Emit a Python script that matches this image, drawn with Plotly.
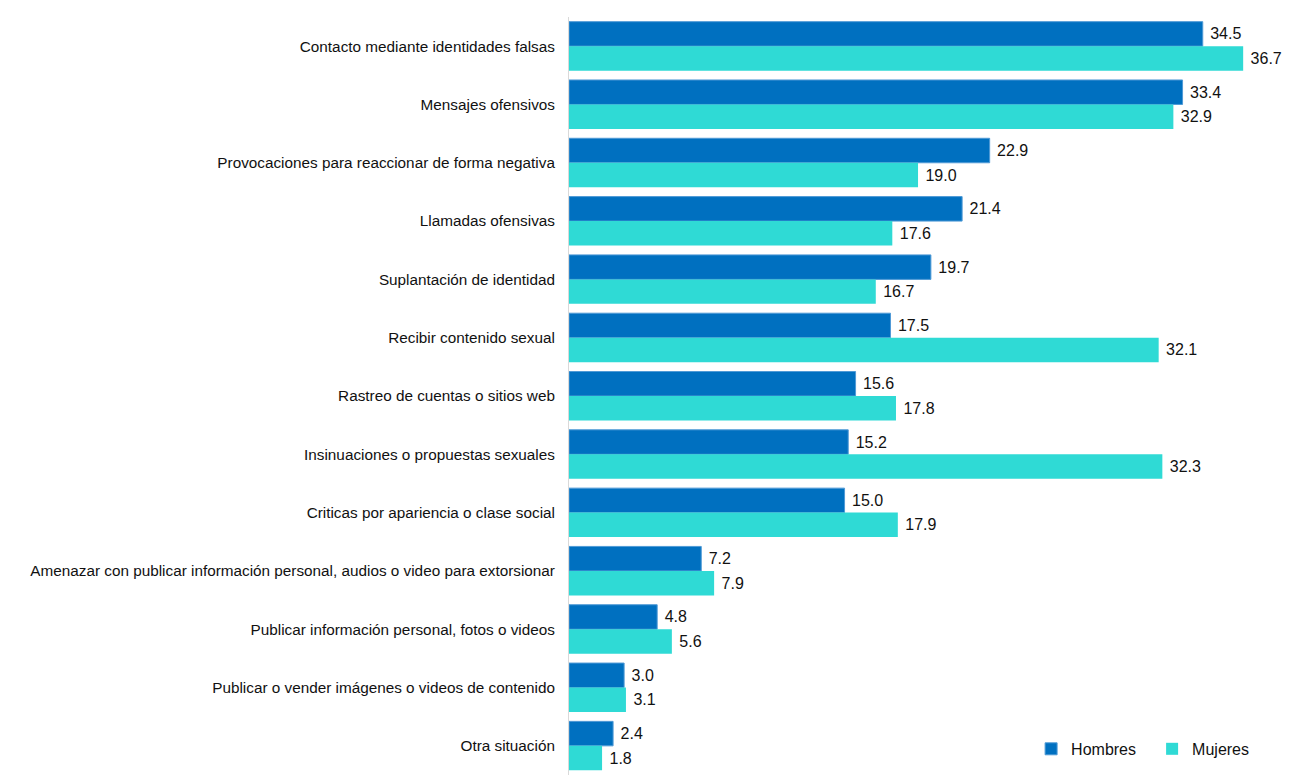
import plotly.graph_objects as go

categories = [
    "Contacto mediante identidades falsas",
    "Mensajes ofensivos",
    "Provocaciones para reaccionar de forma negativa",
    "Llamadas ofensivas",
    "Suplantación de identidad",
    "Recibir contenido sexual",
    "Rastreo de cuentas o sitios web",
    "Insinuaciones o propuestas sexuales",
    "Criticas por apariencia o clase social",
    "Amenazar con publicar información personal, audios o video para extorsionar",
    "Publicar información personal, fotos o videos",
    "Publicar o vender imágenes o videos de contenido",
    "Otra situación",
]
hombres = [34.5, 33.4, 22.9, 21.4, 19.7, 17.5, 15.6, 15.2, 15.0, 7.2, 4.8, 3.0, 2.4]
mujeres = [36.7, 32.9, 19.0, 17.6, 16.7, 32.1, 17.8, 32.3, 17.9, 7.9, 5.6, 3.1, 1.8]

FONT = "Liberation Sans, Arial, sans-serif"

fig = go.Figure()
fig.add_trace(go.Bar(
    y=categories, x=hombres, name="Hombres", orientation="h",
    marker=dict(color="#0070C0", line=dict(color="#4F9AD6", width=1)),
    texttemplate=" %{x:.1f}", textposition="outside",
    textfont=dict(size=16, color="#111111", family=FONT),
    cliponaxis=False,
))
fig.add_trace(go.Bar(
    y=categories, x=mujeres, name="Mujeres", orientation="h",
    marker=dict(color="#2FDAD5", line=dict(color="#2FDAD5", width=0)),
    texttemplate=" %{x:.1f}", textposition="outside",
    textfont=dict(size=16, color="#111111", family=FONT),
    cliponaxis=False,
))

fig.update_layout(
    width=1298, height=769,
    margin=dict(l=561, r=0, t=9, b=2),
    barmode="group", bargap=0.16, bargroupgap=0,
    plot_bgcolor="white", paper_bgcolor="white",
    font=dict(family=FONT, size=15.3, color="#111111"),
    legend=dict(
        orientation="h", x=0.627, y=0.012, xanchor="left", yanchor="bottom",
        font=dict(size=16, family=FONT, color="#111111"),
        bgcolor="rgba(0,0,0,0)", itemwidth=30, traceorder="normal",
        entrywidth=76,
    ),
    showlegend=True,
)
fig.update_xaxes(range=[0, 40.12], visible=False, showgrid=False, zeroline=False)
fig.update_yaxes(
    autorange="reversed", showgrid=False, zeroline=False,
    showline=True, linecolor="#D9D9D9", linewidth=1,
    ticks="", ticklabelstandoff=10,
    tickfont=dict(size=15.3, family=FONT, color="#111111"),
)

fig.write_html("out.html")
